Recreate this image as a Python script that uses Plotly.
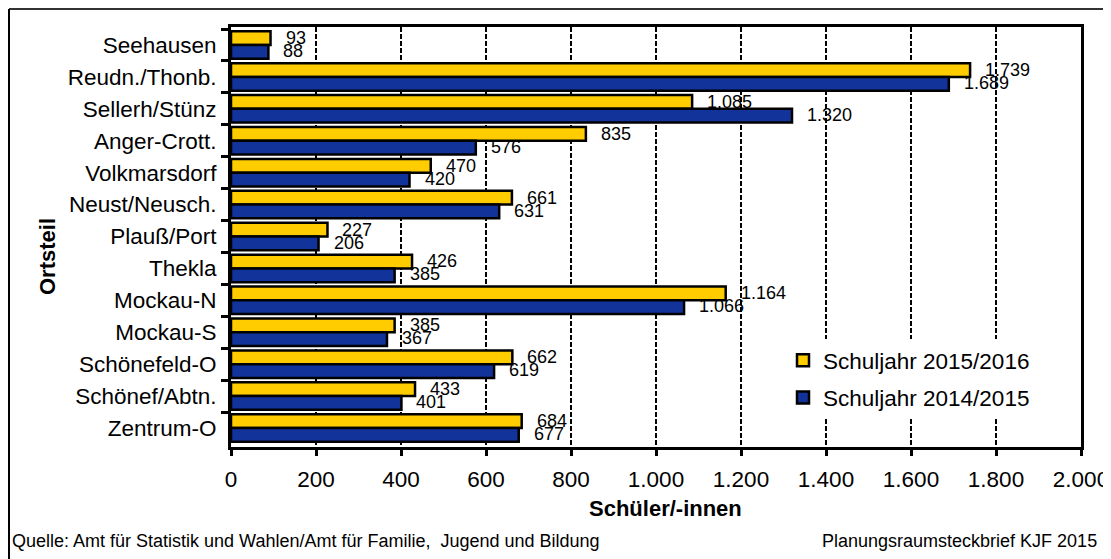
import plotly.graph_objects as go

# ---- data (top to bottom as displayed) ----
districts = ["Seehausen", "Reudn./Thonb.", "Sellerh/Stünz", "Anger-Crott.", "Volkmarsdorf",
             "Neust/Neusch.", "Plauß/Port", "Thekla", "Mockau-N", "Mockau-S",
             "Schönefeld-O", "Schönef/Abtn.", "Zentrum-O"]
sj_2015_2016 = [93, 1739, 1085, 835, 470, 661, 227, 426, 1164, 385, 662, 433, 684]
sj_2014_2015 = [88, 1689, 1320, 576, 420, 631, 206, 385, 1066, 367, 619, 401, 677]
series_names = ["Schuljahr 2015/2016", "Schuljahr 2014/2015"]
x_ticks = [0, 200, 400, 600, 800, 1000, 1200, 1400, 1600, 1800, 2000]

YELLOW = "#FFCC00"
BLUE = "#12339A"
FONT = "Liberation Sans, Arial, sans-serif"

OFF = 8  # page offset of the figure (body margin)
W, H = 1111, 559
L, R, T, B = 223, 38, 19, 120
PW, PH = W - L - R, H - T - B


def px_x(page_px):
    return (page_px - OFF - L) / PW


def px_y(page_py):
    return (H - B - (page_py - OFF)) / PH


def fmt(v):
    return f"{v:,}".replace(",", ".")


fig = go.Figure()
fig.add_trace(go.Bar(
    y=districts, x=sj_2015_2016, orientation="h", name=series_names[0],
    marker=dict(color=YELLOW, line=dict(color="black", width=2.5)),
    legendgroup="a",
))
fig.add_trace(go.Bar(
    y=districts, x=sj_2014_2015, orientation="h", name=series_names[1],
    marker=dict(color=BLUE, line=dict(color="black", width=2.5)),
    legendgroup="b",
))

annotations = []
for d, v in zip(districts, sj_2015_2016):
    annotations.append(dict(x=v, y=d, xref="x", yref="y", text=fmt(v), showarrow=False,
                            xanchor="left", yanchor="middle", xshift=13, yshift=7,
                            font=dict(family=FONT, size=18, color="black")))
for d, v in zip(districts, sj_2014_2015):
    annotations.append(dict(x=v, y=d, xref="x", yref="y", text=fmt(v), showarrow=False,
                            xanchor="left", yanchor="middle", xshift=13, yshift=-6,
                            font=dict(family=FONT, size=18, color="black")))

# axis titles
annotations.append(dict(x=px_x(665), y=px_y(509), xref="paper", yref="paper",
                        text="<b>Schüler/-innen</b>", showarrow=False,
                        xanchor="center", yanchor="middle",
                        font=dict(family=FONT, size=22, color="black")))
annotations.append(dict(x=px_x(47), y=px_y(257), xref="paper", yref="paper",
                        text="<b>Ortsteil</b>", showarrow=False, textangle=-90,
                        xanchor="center", yanchor="middle",
                        font=dict(family=FONT, size=22, color="black")))
# footer
annotations.append(dict(x=px_x(10), y=px_y(541), xref="paper", yref="paper",
                        text="Quelle: Amt für Statistik und Wahlen/Amt für Familie,  Jugend und Bildung",
                        showarrow=False, xanchor="left", yanchor="middle",
                        font=dict(family=FONT, size=18, color="black")))
annotations.append(dict(x=px_x(1099), y=px_y(541), xref="paper", yref="paper",
                        text="Planungsraumsteckbrief KJF 2015",
                        showarrow=False, xanchor="right", yanchor="middle",
                        font=dict(family=FONT, size=18, color="black")))

# outer chart frame (top and left edges are what is visible)
shapes = [
    dict(type="line", xref="paper", yref="paper", x0=px_x(9), x1=px_x(1125),
         y0=px_y(9), y1=px_y(9), line=dict(color="#333333", width=2)),
    dict(type="line", xref="paper", yref="paper", x0=px_x(9), x1=px_x(9),
         y0=px_y(9), y1=px_y(575), line=dict(color="black", width=2)),
]

fig.update_layout(
    width=W, height=H,
    margin=dict(l=L, r=R, t=T, b=B, pad=0, autoexpand=False),
    paper_bgcolor="white", plot_bgcolor="white",
    separators=",.",
    barmode="group", bargap=0.14, bargroupgap=0.0,
    font=dict(family=FONT, size=22, color="black"),
    legend=dict(
        x=px_x(783), y=px_y(379), xanchor="left", yanchor="middle",
        bgcolor="white", borderwidth=0,
        font=dict(family=FONT, size=22.5, color="black"),
        traceorder="grouped", tracegroupgap=5,
    ),
    annotations=annotations,
    shapes=shapes,
    xaxis=dict(
        range=[0, 2000], tickvals=x_ticks, tickformat=",d", automargin=False,
        showgrid=True, gridcolor="black", gridwidth=2, griddash="5px,2px",
        showline=True, linecolor="black", linewidth=3, mirror=True,
        ticks="outside", ticklen=6, tickwidth=3, tickcolor="black",
        ticklabelstandoff=4,
        zeroline=False,
        tickfont=dict(family=FONT, size=22.5, color="black"),
    ),
    yaxis=dict(
        type="category", categoryorder="array", categoryarray=districts,
        autorange="reversed", tickson="boundaries", automargin=False,
        showgrid=False, showline=True, linecolor="black", linewidth=3, mirror=True,
        ticks="outside", ticklen=7, tickwidth=3, tickcolor="black",
        ticklabelstandoff=7,
        tickfont=dict(family=FONT, size=22.5, color="black"),
    ),
)

fig.write_html("out.html")
